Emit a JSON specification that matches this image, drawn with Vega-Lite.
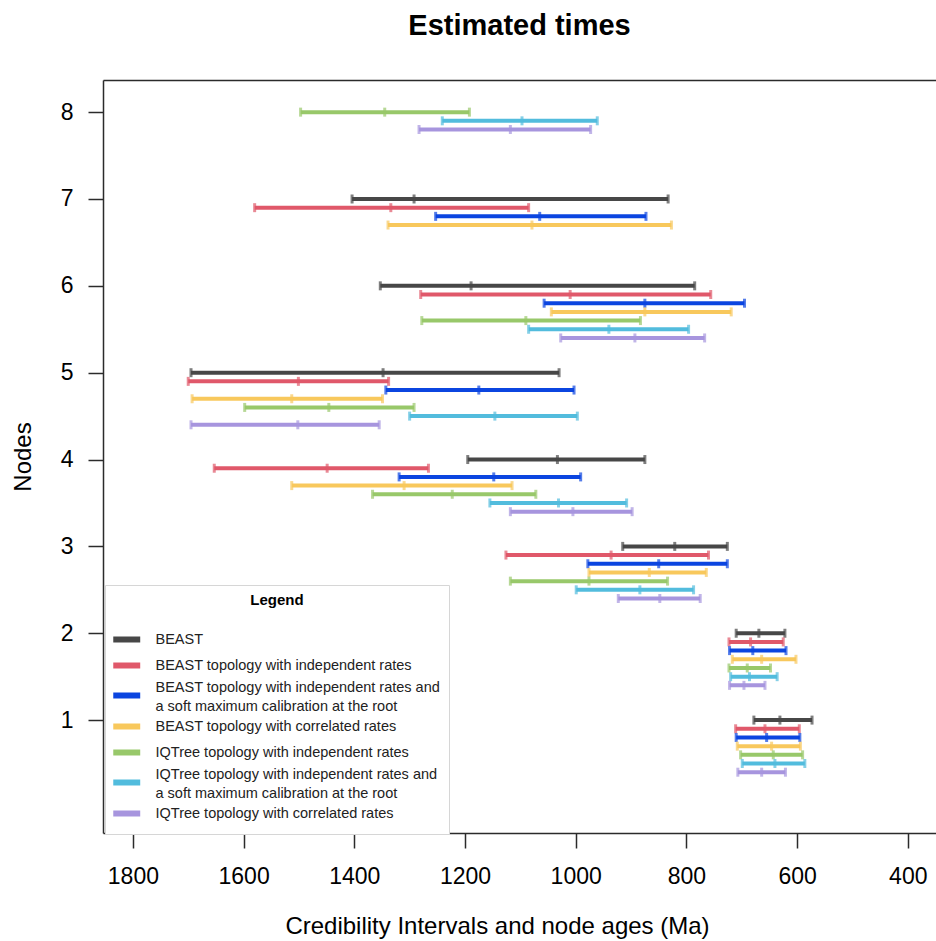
{
  "$schema": "https://vega.github.io/schema/vega-lite/v6.json",
  "width": 833,
  "height": 753,
  "autosize": {"type": "none"},
  "padding": {"left": 103, "top": 80, "right": 0, "bottom": 108},
  "background": "white",
  "title": {"text": "Estimated times", "fontSize": 29, "fontWeight": "bold", "offset": 39, "anchor": "middle", "color": "black", "font": "Liberation Sans"},
  "config": {
    "font": "Liberation Sans",
    "view": {"stroke": null},
    "axis": {"grid": false, "domainColor": "#2b2b2b", "domainWidth": 1.5, "tickColor": "#2b2b2b", "tickWidth": 1.5, "tickSize": 15, "labelColor": "black", "titleColor": "black", "labelFontSize": 23, "titleFontSize": 24, "titleFontWeight": "normal", "labelFont": "Liberation Sans", "titleFont": "Liberation Sans"},
    "legend": {
      "orient": "none", "legendX": 2, "legendY": 505, "fillColor": "white", "strokeColor": "#d6d6d6", "padding": 8,
      "titleFontSize": 15, "titleFontWeight": "bold", "titleColor": "black", "titleAnchor": "middle", "titleAlign": "center", "titlePadding": 24,
      "labelFontSize": 14.5, "labelColor": "#222", "labelLimit": 500, "labelOffset": 27.5,
      "symbolType": "M-1.706,0H4.647", "symbolSize": 72, "symbolStrokeWidth": 6, "rowPadding": 1
    }
  },
  "data": {"values": [
    {"series": "IQTree topology with independent rates", "node": 8, "y": 8.0, "lo": 1497, "mid": 1345, "hi": 1192},
    {"series": "IQTree topology with independent rates and a soft maximum calibration at the root", "node": 8, "y": 7.9, "lo": 1241, "mid": 1097, "hi": 961},
    {"series": "IQTree topology with correlated rates", "node": 8, "y": 7.8, "lo": 1283, "mid": 1118, "hi": 973},
    {"series": "BEAST", "node": 7, "y": 7.0, "lo": 1404, "mid": 1292, "hi": 833},
    {"series": "BEAST topology with independent rates", "node": 7, "y": 6.9, "lo": 1580, "mid": 1334, "hi": 1085},
    {"series": "BEAST topology with independent rates and a soft maximum calibration at the root", "node": 7, "y": 6.8, "lo": 1253, "mid": 1065, "hi": 873},
    {"series": "BEAST topology with correlated rates", "node": 7, "y": 6.7, "lo": 1339, "mid": 1079, "hi": 827},
    {"series": "BEAST", "node": 6, "y": 6.0, "lo": 1353, "mid": 1189, "hi": 785},
    {"series": "BEAST topology with independent rates", "node": 6, "y": 5.9, "lo": 1280, "mid": 1010, "hi": 756},
    {"series": "BEAST topology with independent rates and a soft maximum calibration at the root", "node": 6, "y": 5.8, "lo": 1057, "mid": 875, "hi": 695},
    {"series": "BEAST topology with correlated rates", "node": 6, "y": 5.7, "lo": 1044, "mid": 875, "hi": 719},
    {"series": "IQTree topology with independent rates", "node": 6, "y": 5.6, "lo": 1278, "mid": 1090, "hi": 883},
    {"series": "IQTree topology with independent rates and a soft maximum calibration at the root", "node": 6, "y": 5.5, "lo": 1085, "mid": 940, "hi": 796},
    {"series": "IQTree topology with correlated rates", "node": 6, "y": 5.4, "lo": 1027, "mid": 893, "hi": 767},
    {"series": "BEAST", "node": 5, "y": 5.0, "lo": 1695, "mid": 1348, "hi": 1030},
    {"series": "BEAST topology with independent rates", "node": 5, "y": 4.9, "lo": 1700, "mid": 1501, "hi": 1338},
    {"series": "BEAST topology with independent rates and a soft maximum calibration at the root", "node": 5, "y": 4.8, "lo": 1343, "mid": 1175, "hi": 1003},
    {"series": "BEAST topology with correlated rates", "node": 5, "y": 4.7, "lo": 1693, "mid": 1513, "hi": 1349},
    {"series": "IQTree topology with independent rates", "node": 5, "y": 4.6, "lo": 1598, "mid": 1446, "hi": 1292},
    {"series": "IQTree topology with independent rates and a soft maximum calibration at the root", "node": 5, "y": 4.5, "lo": 1300, "mid": 1146, "hi": 997},
    {"series": "IQTree topology with correlated rates", "node": 5, "y": 4.4, "lo": 1695, "mid": 1502, "hi": 1355},
    {"series": "BEAST", "node": 4, "y": 4.0, "lo": 1195, "mid": 1033, "hi": 875},
    {"series": "BEAST topology with independent rates", "node": 4, "y": 3.9, "lo": 1653, "mid": 1449, "hi": 1266},
    {"series": "BEAST topology with independent rates and a soft maximum calibration at the root", "node": 4, "y": 3.8, "lo": 1319, "mid": 1148, "hi": 991},
    {"series": "BEAST topology with correlated rates", "node": 4, "y": 3.7, "lo": 1513, "mid": 1310, "hi": 1115},
    {"series": "IQTree topology with independent rates", "node": 4, "y": 3.6, "lo": 1367, "mid": 1223, "hi": 1072},
    {"series": "IQTree topology with independent rates and a soft maximum calibration at the root", "node": 4, "y": 3.5, "lo": 1155, "mid": 1031, "hi": 908},
    {"series": "IQTree topology with correlated rates", "node": 4, "y": 3.4, "lo": 1118, "mid": 1005, "hi": 898},
    {"series": "BEAST", "node": 3, "y": 3.0, "lo": 915, "mid": 821, "hi": 726},
    {"series": "BEAST topology with independent rates", "node": 3, "y": 2.9, "lo": 1126, "mid": 936, "hi": 760},
    {"series": "BEAST topology with independent rates and a soft maximum calibration at the root", "node": 3, "y": 2.8, "lo": 978, "mid": 850, "hi": 726},
    {"series": "BEAST topology with correlated rates", "node": 3, "y": 2.7, "lo": 976, "mid": 867, "hi": 764},
    {"series": "IQTree topology with independent rates", "node": 3, "y": 2.6, "lo": 1118, "mid": 976, "hi": 834},
    {"series": "IQTree topology with independent rates and a soft maximum calibration at the root", "node": 3, "y": 2.5, "lo": 999, "mid": 884, "hi": 787},
    {"series": "IQTree topology with correlated rates", "node": 3, "y": 2.4, "lo": 923, "mid": 848, "hi": 775},
    {"series": "BEAST", "node": 2, "y": 2.0, "lo": 710, "mid": 669, "hi": 622},
    {"series": "BEAST topology with independent rates", "node": 2, "y": 1.9, "lo": 723, "mid": 684, "hi": 625},
    {"series": "BEAST topology with independent rates and a soft maximum calibration at the root", "node": 2, "y": 1.8, "lo": 722, "mid": 680, "hi": 620},
    {"series": "BEAST topology with correlated rates", "node": 2, "y": 1.7, "lo": 717, "mid": 664, "hi": 602},
    {"series": "IQTree topology with independent rates", "node": 2, "y": 1.6, "lo": 723, "mid": 690, "hi": 648},
    {"series": "IQTree topology with independent rates and a soft maximum calibration at the root", "node": 2, "y": 1.5, "lo": 720, "mid": 686, "hi": 636},
    {"series": "IQTree topology with correlated rates", "node": 2, "y": 1.4, "lo": 722, "mid": 696, "hi": 658},
    {"series": "BEAST", "node": 1, "y": 1.0, "lo": 678, "mid": 631, "hi": 573},
    {"series": "BEAST topology with independent rates", "node": 1, "y": 0.9, "lo": 711, "mid": 658, "hi": 596},
    {"series": "BEAST topology with independent rates and a soft maximum calibration at the root", "node": 1, "y": 0.8, "lo": 710, "mid": 655, "hi": 595},
    {"series": "BEAST topology with correlated rates", "node": 1, "y": 0.7, "lo": 708, "mid": 646, "hi": 594},
    {"series": "IQTree topology with independent rates", "node": 1, "y": 0.6, "lo": 702, "mid": 643, "hi": 590},
    {"series": "IQTree topology with independent rates and a soft maximum calibration at the root", "node": 1, "y": 0.5, "lo": 699, "mid": 640, "hi": 586},
    {"series": "IQTree topology with correlated rates", "node": 1, "y": 0.4, "lo": 707, "mid": 664, "hi": 621}
  ]},
  "resolve": {"axis": {"x": "independent"}},
  "layer": [
    {
      "mark": {"type": "rule", "strokeWidth": 4, "strokeCap": "butt"},
      "encoding": {
        "x": {"field": "lo", "type": "quantitative", "scale": {"domain": [349, 1854], "reverse": true, "nice": false, "zero": false},
              "axis": {"orient": "bottom", "values": [400, 600, 800, 1000, 1200, 1400, 1600, 1800], "format": "d", "labelPadding": 17, "title": "Credibility Intervals and node ages (Ma)", "titlePadding": 26, "titleX": 394}},
        "x2": {"field": "hi"},
        "y": {"field": "y", "type": "quantitative", "scale": {"domain": [-0.3, 8.37], "nice": false, "zero": false},
              "axis": {"values": [1, 2, 3, 4, 5, 6, 7, 8], "format": "d", "labelAngle": 0, "labelPadding": 15, "title": "Nodes", "titlePadding": 25}},
        "color": {"field": "series", "type": "nominal",
          "scale": {"domain": ["BEAST", "BEAST topology with independent rates", "BEAST topology with independent rates and a soft maximum calibration at the root", "BEAST topology with correlated rates", "IQTree topology with independent rates", "IQTree topology with independent rates and a soft maximum calibration at the root", "IQTree topology with correlated rates"],
                    "range": ["#474747", "#E0586A", "#0B45E0", "#F8C85C", "#98C86A", "#52BCDD", "#A795DE"]},
          "legend": {"title": "Legend",
            "labelExpr": "datum.label == 'BEAST topology with independent rates and a soft maximum calibration at the root' ? ['BEAST topology with independent rates and', 'a soft maximum calibration at the root'] : datum.label == 'IQTree topology with independent rates and a soft maximum calibration at the root' ? ['IQTree topology with independent rates and', 'a soft maximum calibration at the root'] : datum.label",
            "encode": {"labels": {"update": {"lineHeight": {"value": 19}, "dy": {"signal": "indexof(datum.value, 'soft maximum') >= 0 ? -8 : 0"}}}}}}
      }
    },
    {
      "transform": [{"fold": ["lo", "mid", "hi"], "as": ["which", "val"]}],
      "mark": {"type": "tick", "orient": "vertical", "size": 9, "thickness": 3},
      "encoding": {
        "x": {"field": "val", "type": "quantitative", "axis": {"orient": "top", "labels": false, "ticks": false, "title": null}},
        "y": {"field": "y", "type": "quantitative"},
        "color": {"field": "series", "type": "nominal"}
      }
    }
  ]
}
